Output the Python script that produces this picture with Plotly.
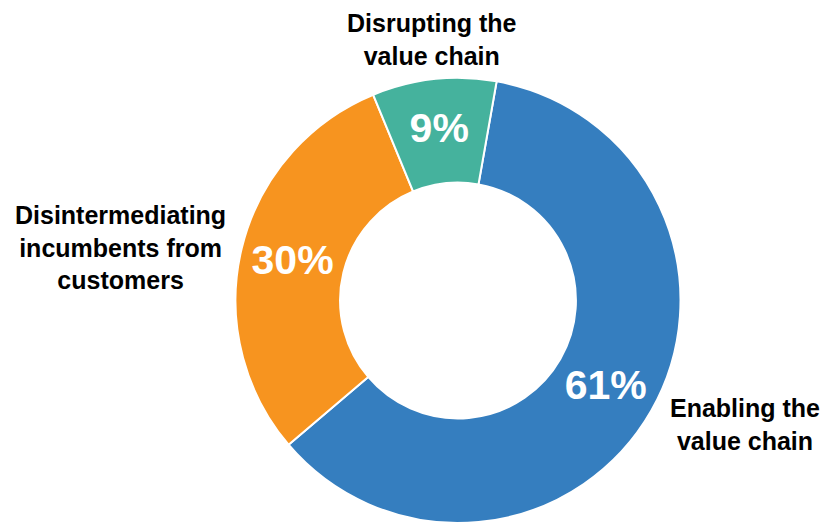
import plotly.graph_objects as go

labels = ["Enabling the<br>value chain", "Disintermediating<br>incumbents from<br>customers", "Disrupting the<br>value chain"]
values = [61, 30, 9]
colors = ["#357EBF", "#F7941F", "#45B29D"]

W, H = 829, 524
OFF = 8  # page body margin
fig = go.Figure(go.Pie(
    labels=labels,
    values=values,
    sort=False,
    direction="clockwise",
    rotation=10,
    hole=0.53,
    marker=dict(colors=colors, line=dict(color="white", width=2)),
    textinfo="percent",
    texttemplate="%{percent:.0%}",
    textposition="inside",
    insidetextorientation="horizontal",
    textfont=dict(family="Liberation Sans, Arial", size=41, color="white", weight="bold"),
    showlegend=False,
    hoverinfo="label+percent",
    domain=dict(x=[(234 - OFF) / W, (682 - OFF) / W], y=[1 - (523 - OFF) / H, 1 - (78 - OFF) / H]),
))

label_font = dict(family="Liberation Sans, Arial", size=25, color="black", weight="bold")
# (x, y, yanchor) in screen pixels
ann_pos = [(745, 424, "middle"), (120, 247, "middle"), (432, OFF, "top")]
for lab, (x, y, ya) in zip(labels, ann_pos):
    fig.add_annotation(
        text=lab, x=(x - OFF) / W, y=1 - (y - OFF) / H, xref="paper", yref="paper",
        xanchor="center", yanchor=ya, showarrow=False, borderpad=0,
        font=label_font, align="center",
    )

fig.update_layout(
    width=W, height=H,
    margin=dict(l=0, r=0, t=0, b=0),
    paper_bgcolor="white", plot_bgcolor="white",
)
fig.write_html("out.html")
